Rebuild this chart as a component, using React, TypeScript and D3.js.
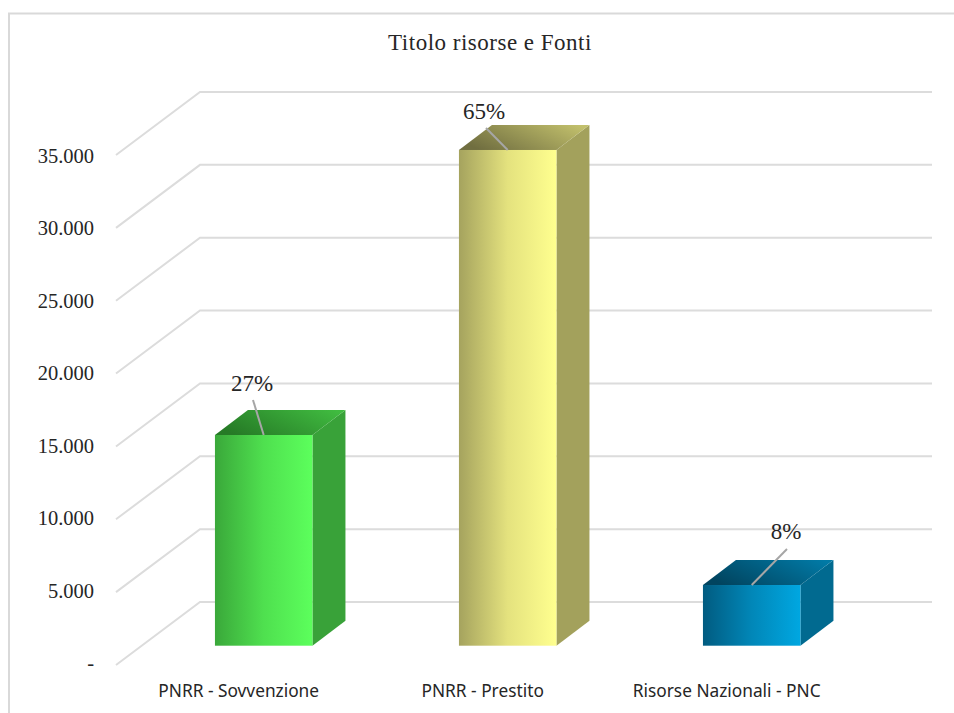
import React from "react";
import * as d3 from "d3";

const categories = ["PNRR - Sovvenzione", "PNRR - Prestito", "Risorse Nazionali - PNC"];
const values = [14460, 34020, 4165];
const percents = ["27%", "65%", "8%"];
const ticks = [0, 5000, 10000, 15000, 20000, 25000, 30000, 35000];
const tickLabels = ["-", "5.000", "10.000", "15.000", "20.000", "25.000", "30.000", "35.000"];
const palette = [
  { dark: "#3aa83a", mid: "#4fe04f", light: "#5cff5c", side: "#39a239", topA: "#267a26", topB: "#40bb40" },
  { dark: "#a5a35e", mid: "#e4e27e", light: "#ffff8f", side: "#a3a15c", topA: "#706e40", topB: "#c2c06c" },
  { dark: "#015b80", mid: "#0187b8", light: "#00a7e1", side: "#016a90", topA: "#01445f", topB: "#017aa6" },
];
const labelTargets = [
  { lx: 253, ly: 400, tx: 252, ty: 383 },
  { lx: 486, ly: 128, tx: 484, ty: 111 },
  { lx: 787, ly: 549, tx: 786, ty: 531 },
];

const W = 954;
const H = 713;
const serif = "'Liberation Serif', 'DejaVu Serif', serif";
const sans = "'Noto Sans', 'Open Sans', sans-serif";

export default function App() {
  const backY = d3.scaleLinear().domain([0, 35000]).range([602, 92]);
  const labelY = d3.scaleLinear().domain([0, 35000]).range([670, 162.5]);
  const barY = d3.scaleLinear().domain([0, 35000]).range([645.7, 135.7]);
  const x = d3.scaleBand<string>().domain(categories).range([141.7, 873.7]);
  const barW = 97.5;
  const dx = 33;
  const dy = 25;
  const wallDx = 84;
  const wallDy = 63;
  return (
    <svg
      width={W}
      height={H}
      viewBox={`0 0 ${W} ${H}`}
      style={{ position: "fixed", left: 0, top: 0, display: "block", background: "#fff" }}
    >
      <defs>
        {palette.map((p, i) => (
          <React.Fragment key={i}>
            <linearGradient id={`front${i}`} x1="0" x2="1" y1="0" y2="0">
              <stop offset="0" stopColor={p.dark} />
              <stop offset="0.5" stopColor={p.mid} />
              <stop offset="1" stopColor={p.light} />
            </linearGradient>
            <linearGradient id={`top${i}`} x1="0" x2="1" y1="0.6" y2="0.2">
              <stop offset="0" stopColor={p.topA} />
              <stop offset="1" stopColor={p.topB} />
            </linearGradient>
          </React.Fragment>
        ))}
      </defs>
      <path d="M9,713V13.5H954" fill="none" stroke="#d9d9d9" strokeWidth={2} />
      <text x={490} y={50} textAnchor="middle" fontFamily={serif} fontSize={23} letterSpacing={0.5} fill="#262626">
        Titolo risorse e Fonti
      </text>
      {ticks.map((t, i) => {
        const y = backY(t);
        return (
          <g key={t}>
            <path
              d={`M${200 - wallDx},${y + wallDy}L200,${y}L932,${y}`}
              fill="none"
              stroke="#dcdcdc"
              strokeWidth={2}
            />
            <text x={94} y={labelY(t)} textAnchor="end" fontFamily={serif} fontSize={20.5} fill="#262626">
              {tickLabels[i]}
            </text>
          </g>
        );
      })}
      {categories.map((c, i) => {
        const cx = x(c)! + x.bandwidth() / 2;
        const x0 = cx - barW / 2;
        const x1 = cx + barW / 2;
        const yT = barY(values[i]);
        const yB = barY(0);
        const p = palette[i];
        const lt = labelTargets[i];
        return (
          <g key={c}>
            <path d={`M${x1},${yT}L${x1 + dx},${yT - dy}L${x1 + dx},${yB - dy}L${x1},${yB}Z`} fill={p.side} />
            <path d={`M${x0},${yT}L${x1},${yT}L${x1 + dx},${yT - dy}L${x0 + dx},${yT - dy}Z`} fill={`url(#top${i})`} />
            <rect x={x0} y={yT} width={barW} height={yB - yT} fill={`url(#front${i})`} />
            <line x1={lt.lx} y1={lt.ly} x2={cx} y2={yT} stroke="#a6a6a6" strokeWidth={2} />
            <text x={lt.tx} y={lt.ty + 7.5} textAnchor="middle" fontFamily={serif} fontSize={23} fill="#262626">
              {percents[i]}
            </text>
            <text x={cx - 25} y={697} textAnchor="middle" fontFamily={sans} fontSize={17.3} fill="#262626">
              {c}
            </text>
          </g>
        );
      })}
    </svg>
  );
}
